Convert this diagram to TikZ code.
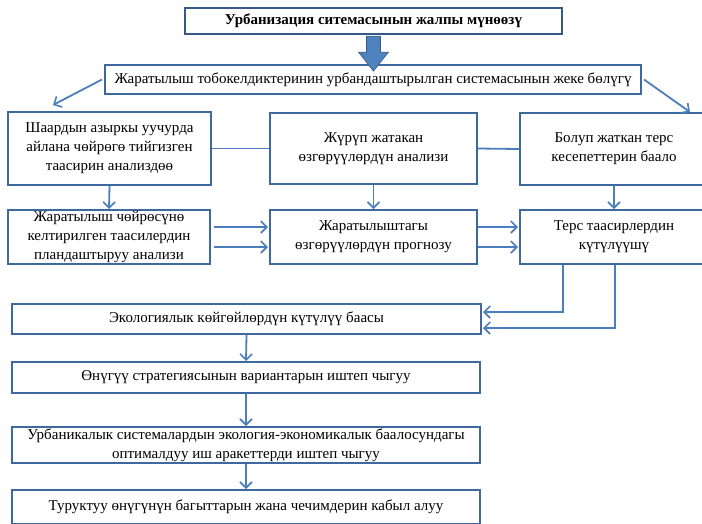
\documentclass[tikz,border=0pt]{standalone}
\usepackage{fontspec}
\setmainfont{Liberation Serif}
\usetikzlibrary{arrows.meta,calc}
\definecolor{bordc}{RGB}{62,104,160}
\definecolor{topc}{RGB}{56,88,135}
\definecolor{arrc}{RGB}{74,126,190}
\definecolor{blockc}{RGB}{79,129,189}
\begin{document}
\begin{tikzpicture}[x=1pt,y=-1pt,
  box/.style={draw=bordc, line width=2pt, align=center, inner sep=0pt,
    font=\fontsize{15}{19}\selectfont},
  conn/.style={draw=arrc, line width=1.8pt},
  arr/.style={conn, -{Straight Barb[length=6pt,width=12pt,line width=1.6pt]}}]
\useasboundingbox (0,0) rectangle (702,523);
\clip (0,0) rectangle (702,523);
\node[box, draw=topc, line width=2.2pt, minimum width=377pt, minimum height=26pt, font=\fontsize{15}{18}\selectfont\bfseries] (top) at (373.5,21) {Урбанизация ситемасынын жалпы мүнөөзү};
\node[box, minimum width=536pt, minimum height=29pt] (sys) at (373,79.5) {Жаратылыш тобокелдиктеринин урбандаштырылган системасынын жеке бөлүгү};
% block arrow
\fill[blockc, draw=topc, line width=0.6pt] ($(top.south)+(-7,1)$) -- ++(14,0) -- ++(0,16) -- ++(8,0) -- ($(top.south)+(0,36)$) -- ($(top.south)+(-15,17)$) -- ++(8,0) -- cycle;
\node[box, minimum width=203pt, minimum height=73pt] (A) at (109.5,148.5) {Шаардын азыркы уучурда\\айлана чөйрөгө тийгизген\\таасирин анализдөө};
\node[box, minimum width=207pt, minimum height=71pt] (B) at (373.5,148.5) {Жүрүп жатакан\\өзгөрүүлөрдүн анализи};
\node[box, minimum width=188pt, minimum height=72pt] (C) at (614,149) {Болуп жаткан терс\\кесепеттерин баало};
\node[box, minimum width=202pt, minimum height=54pt] (D) at (109,237) {Жаратылыш чөйрөсүнө\\келтирилген таасилердин\\пландаштыруу анализи};
\node[box, minimum width=207pt, minimum height=54pt] (E) at (373.5,237) {Жаратылыштагы\\өзгөрүүлөрдүн прогнозу};
\node[box, minimum width=188pt, minimum height=54pt] (F) at (614,237) {Терс таасирлердин\\күтүлүүшү};
\node[box, minimum width=469pt, minimum height=30pt] (G) at (246.5,319) {Экологиялык көйгөйлөрдүн күтүлүү баасы};
\node[box, minimum width=468pt, minimum height=31pt] (H) at (246,377.5) {Өнүгүү стратегиясынын вариантарын иштеп чыгуу};
\node[box, minimum width=468pt, minimum height=36pt] (I) at (246,445) {Урбаникалык системалардын экология-экономикалык баалосундагы\\оптималдуу иш аракеттерди иштеп чыгуу};
\node[box, minimum width=468pt, minimum height=34pt] (J) at (246,507) {Туруктуу өнүгүнүн багыттарын жана чечимдерин кабыл алуу};
\coordinate (lt) at (53,105);
\coordinate (rt) at (690,112);
\draw[arr] ([xshift=-2pt]sys.west) -- (lt);
\draw[arr] ([xshift=2pt]sys.east) -- (rt);
\draw[conn] (A.east) -- (B.west);
\draw[conn] (B.east) -- (C.west);
\draw[arr] (A.south) -- (D.north);
\draw[arr] (B.south) -- (E.north);
\draw[arr] (C.south) -- (F.north);
\draw[arr] ([xshift=3pt,yshift=10pt]D.east) -- ([xshift=-1pt,yshift=10pt]E.west);
\draw[arr] ([xshift=3pt,yshift=-10pt]D.east) -- ([xshift=-1pt,yshift=-10pt]E.west);
\draw[arr] ([yshift=10pt]E.east) -- ([xshift=-1pt,yshift=10pt]F.west);
\draw[arr] ([yshift=-10pt]E.east) -- ([xshift=-1pt,yshift=-10pt]F.west);
\draw[arr] ([xshift=-51pt]F.south) |- ([xshift=1pt,yshift=7pt]G.east);
\draw[arr] ([xshift=1pt]F.south) |- ([xshift=1pt,yshift=-9pt]G.east);
\draw[arr] (G.south) -- (H.north);
\draw[arr] (H.south) -- (I.north);
\draw[arr] (I.south) -- (J.north);
\end{tikzpicture}
\end{document}
